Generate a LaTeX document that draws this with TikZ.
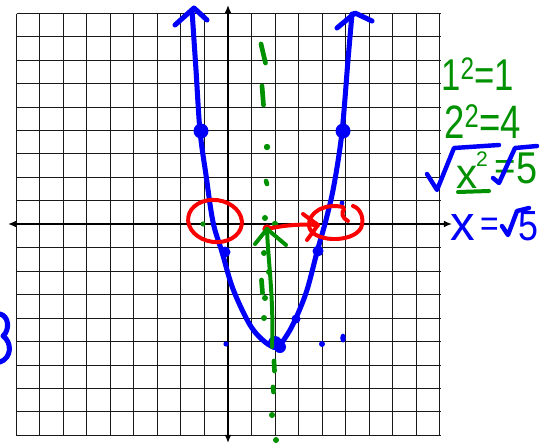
\documentclass[tikz,border=0pt]{standalone}
\usepackage{fontspec}
\setmainfont{Liberation Sans}
\usetikzlibrary{arrows.meta}
\definecolor{pblue}{RGB}{0,0,250}
\definecolor{pgreen}{RGB}{0,145,0}
\definecolor{pred}{RGB}{250,0,0}
\begin{document}
\begin{tikzpicture}[x=0.03cm,y=-0.03cm,
  gridline/.style={line width=1.1pt,black!90},
  axisline/.style={line width=2.3pt,black},
  bluepen/.style={line width=4.3pt,pblue,line cap=round,line join=round},
  redpen/.style={line width=3.4pt,pred,line cap=round,line join=round},
  greenpen/.style={line width=3.4pt,pgreen,line cap=round,line join=round},
  greendash/.style={line width=4pt,pgreen,line cap=round},
  gtext/.style={text=pgreen,inner sep=0pt},
  btext/.style={text=pblue,inner sep=0pt}]
\useasboundingbox (0,0) rectangle (550,444);
\fill[white] (0,0) rectangle (550,444);
% grid
\foreach \i in {0,...,18} {
  \pgfmathsetmacro{\gx}{int(16+\i*23.55)+0.5}
  \pgfmathsetmacro{\gy}{int(13.3+\i*23.45)+0.5}
  \draw[gridline] (\gx,13.5) -- (\gx,435.5);
  \draw[gridline] (16.5,\gy) -- (440.5,\gy);
}
% axes
\coordinate (yt) at (228,5);
\coordinate (yb) at (228,443);
\coordinate (xl) at (8,224);
\coordinate (xr) at (452,224);
\draw[axisline,{Latex[length=7pt,width=6pt]}-{Latex[length=7pt,width=6pt]}] (yb) -- (yt);
\draw[axisline,{Latex[length=7pt,width=6pt]}-{Latex[length=7pt,width=6pt]}] (xl) -- (xr);
% green dashed symmetry line
\draw[greendash] (261,44) -- (265.5,63);
\draw[greendash] (262,86) -- (263.5,105);
\fill[pgreen] (267,147) circle (3.2);
\draw[greendash] (266,181) -- (267,184);
\fill[pgreen] (265,218) circle (3);
\fill[pgreen] (275,224) circle (3.2);
\fill[pgreen] (203,224) circle (2.6);
\fill[pgreen] (264,253) circle (3);
\fill[pgreen] (269,272) circle (3);
\draw[greendash] (261.5,280) -- (262.5,293);
\fill[pgreen] (265,298) circle (3);
\fill[pgreen] (264,318) circle (3);
\draw[greendash] (274,361) -- (274.5,371);
\draw[greendash] (273,387) -- (273.5,392);
\fill[pgreen] (272,415) circle (3);
\fill[pgreen] (276,440) circle (3);
% blue parabola
\draw[bluepen] plot[smooth,tension=0.55] coordinates {
  (192,10) (196,70) (200,131) (206,175) (213,222) (222,252) (233,289)
  (250,325) (265,342) (277,347) (287,335) (296,318) (307,290) (317,252)
  (326,220) (334,185) (342,132) (348,60) (352,14)};
\draw[bluepen] (175,25) -- (194,8) -- (207,20);
\draw[bluepen] (337,28) -- (355,13) -- (372,21);
\fill[pblue] (201,131) circle (7.5);
\fill[pblue] (343,131) circle (7.5);
\fill[pblue] (225,252) circle (5.5);
\fill[pblue] (318,251) circle (5.5);
\fill[pblue] (296,319) circle (4.5);
\fill[pblue] (275,343) circle (7);
\fill[pblue] (280,347) circle (6);
\fill[pblue] (226,344) circle (2.6);
\fill[pblue] (322,344) circle (3);
\fill[pblue] (343,338) ellipse (2.8 and 4.5);
\fill[pblue] (342,203) circle (2.4);
% partial blue mark at left edge
\draw[bluepen] (0,314) .. controls (9,316) and (10,330) .. (3,336)
  .. controls (12,342) and (12,358) .. (0,362);
% red circles and arrow
\draw[redpen,rotate around={-8:(215,221)}] (215,221) ellipse (27 and 21);
\draw[redpen] (343,207) .. controls (325,203) and (308,212) .. (309,226)
  .. controls (311,242) and (352,244) .. (361,228)
  .. controls (365,218) and (360,208) .. (353,206);
\draw[redpen] (344,209) .. controls (341,213) and (342,218) .. (348,221);
\node[circle,fill=pred,inner sep=0pt,minimum size=8pt] (rdot) at (267,229) {};
\coordinate (rtip) at (318,225);
\draw[redpen] (rdot.center) .. controls (285,225) and (300,224) .. (rtip);
\draw[redpen] (303,214) -- (rtip) -- (307,240);
% green arrow
\coordinate (gbot) at (272,347);
\coordinate (gtip) at (267,229);
\draw[greenpen] (gbot) .. controls (274,300) and (268,260) .. (gtip);
\draw[greenpen] (255,244) -- (gtip) -- (286,245);
% handwritten notes
\node[gtext,anchor=base west] (n1) at (441,90) {\fontsize{38}{38}\selectfont\scalebox{0.78}[1]{1\textsuperscript{2}=1}};
\node[gtext,anchor=base west] (n2) at (444,138) {\fontsize{40}{40}\selectfont\scalebox{0.78}[1]{2\textsuperscript{2}=4}};
% line 3: sqrt(x^2) = sqrt(5)
\coordinate (s1a) at (427,174);
\coordinate (s1b) at (437,190);
\coordinate (s1c) at (454,148);
\coordinate (s1d) at (499,145);
\draw[bluepen,line width=3.8pt] (s1a) -- (s1b) -- (s1c) -- (s1d);
\node[gtext,anchor=base west] (n3x) at (456,188) {\fontsize{36}{36}\selectfont x};
\node[gtext,anchor=base west] (n3s) at (476,166) {\fontsize{18}{18}\selectfont 2};
\draw[greenpen] (458,192) -- (489,191);
\node[gtext,anchor=base west] (n3e) at (494,179) {\fontsize{33}{33}\selectfont\scalebox{0.95}[1]{=}};
\coordinate (s2a) at (493,178);
\coordinate (s2b) at (499,183);
\coordinate (s2c) at (515,148);
\coordinate (s2d) at (537,146);
\draw[bluepen,line width=3.8pt] (s2a) -- (s2b) -- (s2c) -- (s2d);
\node[gtext,anchor=base west] (n3f) at (516,183) {\fontsize{38}{38}\selectfont\scalebox{0.85}[1]{5}};
% line 4: x = sqrt(5)
\node[btext,anchor=base west] (n4x) at (450,240) {\fontsize{42}{42}\selectfont x};
\node[btext,anchor=base west] (n4e) at (480,236) {\fontsize{32}{32}\selectfont\scalebox{0.85}[1]{=}};
\coordinate (s3a) at (502,226);
\coordinate (s3b) at (508,235);
\coordinate (s3c) at (517,211);
\coordinate (s3d) at (529,208);
\draw[bluepen,line width=3.8pt] (s3a) -- (s3b) -- (s3c) -- (s3d);
\node[btext,anchor=base west] (n4f) at (518,240) {\fontsize{36}{36}\selectfont\scalebox{0.85}[1]{5}};
\end{tikzpicture}
\end{document}
